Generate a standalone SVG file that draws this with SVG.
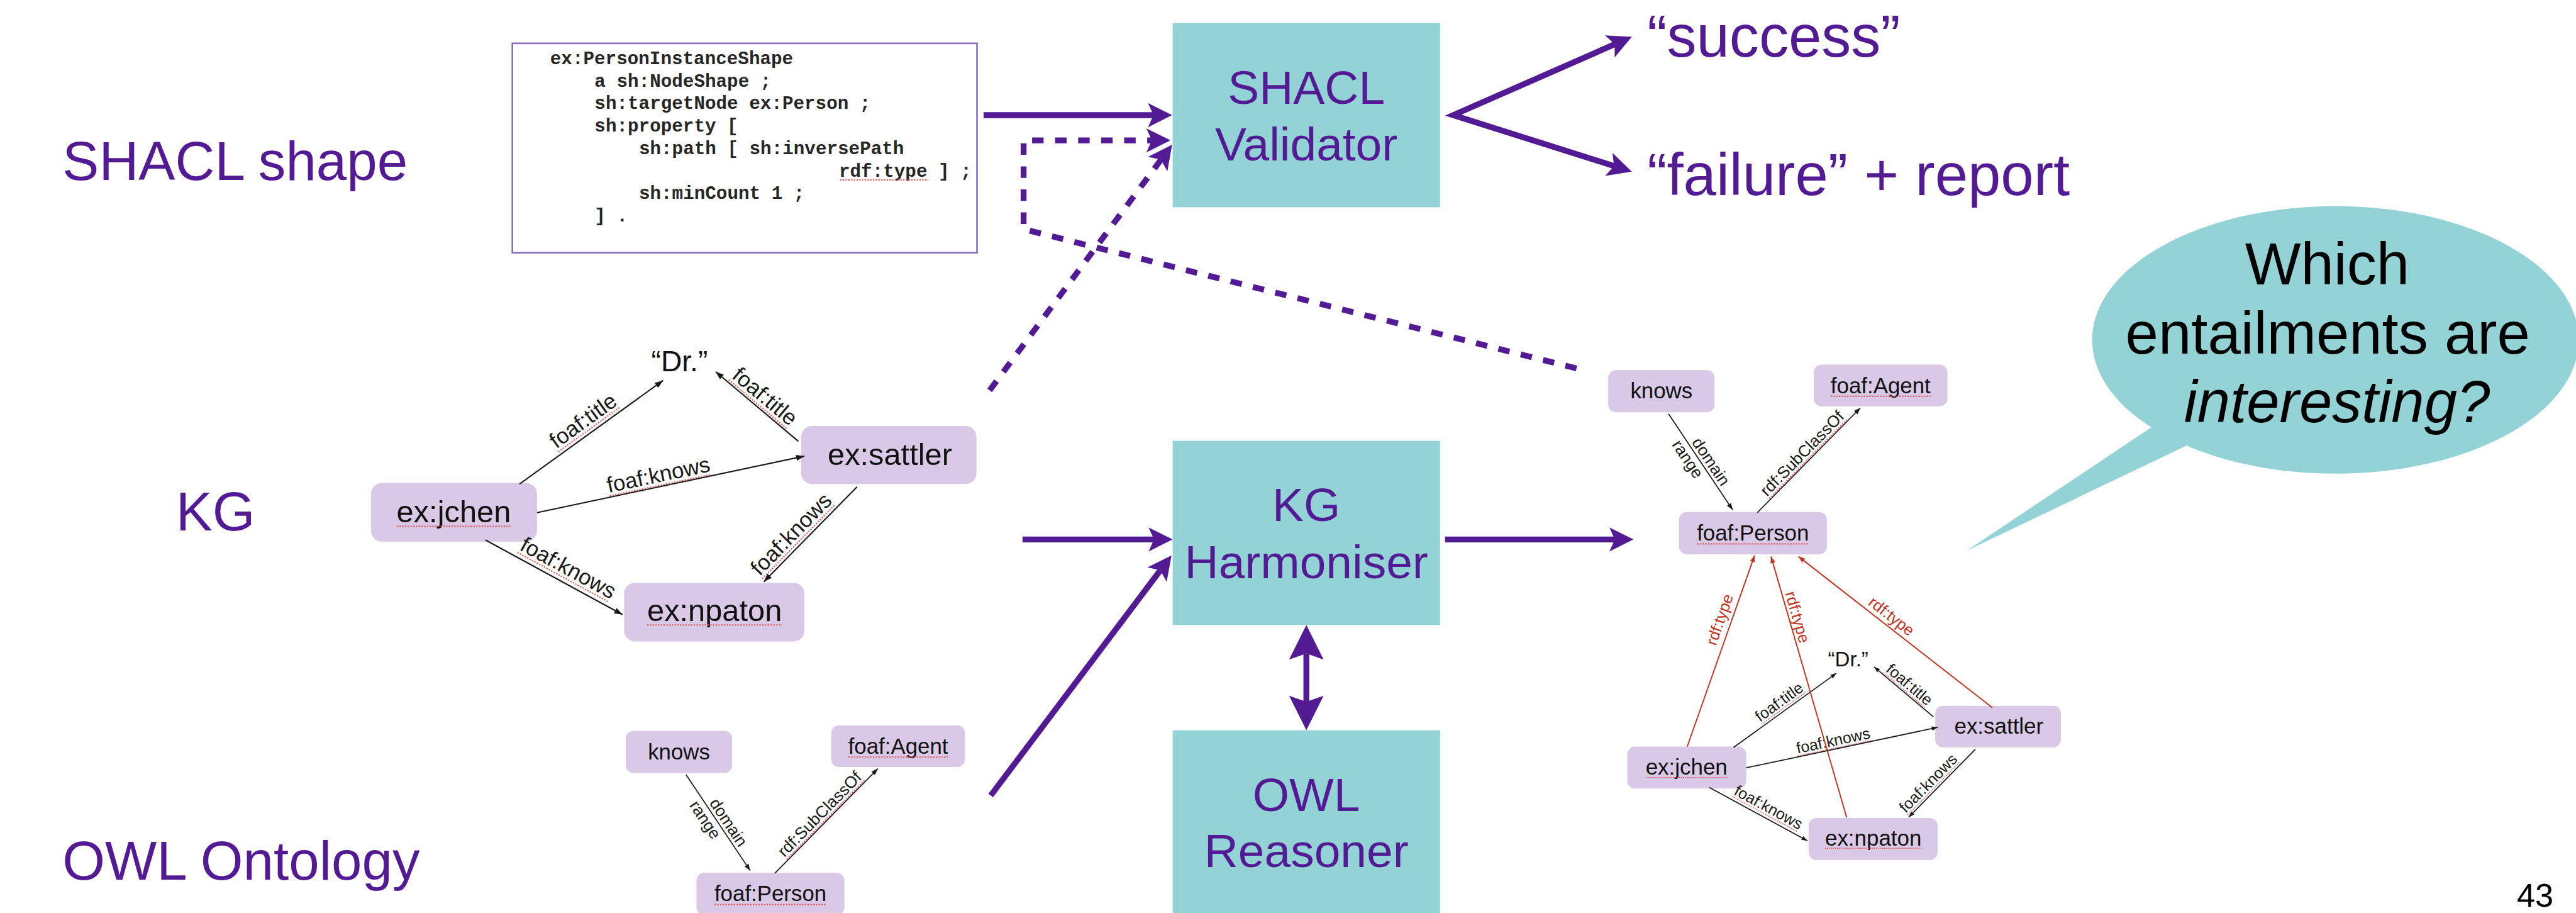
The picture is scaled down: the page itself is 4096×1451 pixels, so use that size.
<svg xmlns="http://www.w3.org/2000/svg" width="4096" height="1451" viewBox="0 0 4096 1451">
<style>
.lbl{font-family:"Liberation Sans",Arial,Helvetica,sans-serif}
.purple{fill:#531B93}
.proc{fill:#93D3D6}
.proctxt{font-size:86px;fill:#531B93;text-anchor:middle}
.out{font-size:108px;fill:#531B93}
.code{font-family:"Liberation Mono","Courier New",monospace;font-size:33.6px;font-weight:bold;fill:#262626}
.node{fill:#D9C9E7}
.ntxt{fill:#111;text-anchor:middle}
.edge{stroke:#1a1a1a;fill:none}
.elbl{fill:#1a1a1a;text-anchor:middle}
.red{stroke:#C0321E;stroke-width:2.2;fill:none}
.rlbl{fill:#C0321E;font-size:29px;text-anchor:middle}
.spell{stroke:#E25555;stroke-width:2.5;stroke-dasharray:2.5 2.5;fill:none}
.flow{stroke:#531B93;stroke-width:10.7;fill:none}
.dash{stroke-dasharray:21 21}
</style>
<defs>
  <marker id="ah" viewBox="-46 -24 48 48" markerWidth="48" markerHeight="48" refX="-34" refY="0" orient="auto-start-reverse" markerUnits="userSpaceOnUse">
    <path d="M0,0 L-44,-22 L-34,0 L-44,22 Z" fill="#531B93"/>
  </marker>
  <marker id="ahB" viewBox="-65 -33 67 66" markerWidth="67" markerHeight="66" refX="-52" refY="0" orient="auto-start-reverse" markerUnits="userSpaceOnUse">
    <path d="M0,0 L-63,-31.5 L-52,0 L-63,31.5 Z" fill="#531B93"/>
  </marker>
  <marker id="tk" viewBox="-16 -7 17 14" markerWidth="17" markerHeight="14" refX="0" refY="0" orient="auto" markerUnits="userSpaceOnUse">
    <path d="M0,0 L-15,-5.5 L-15,5.5 Z" fill="#1a1a1a"/>
  </marker>
  <marker id="ts" viewBox="-13 -6 14 12" markerWidth="14" markerHeight="12" refX="0" refY="0" orient="auto" markerUnits="userSpaceOnUse">
    <path d="M0,0 L-12,-4.5 L-12,4.5 Z" fill="#1a1a1a"/>
  </marker>
  <marker id="tr" viewBox="-13 -6 14 12" markerWidth="14" markerHeight="12" refX="0" refY="0" orient="auto" markerUnits="userSpaceOnUse">
    <path d="M0,0 L-12,-4.5 L-12,4.5 Z" fill="#C0321E"/>
  </marker>
</defs>
<rect width="4096" height="1451" fill="#ffffff"/>
<g transform="scale(0.8713)">

  <!-- row captions -->
  <g id="row-labels" class="lbl purple" font-size="100">
    <text x="114" y="328">SHACL shape</text>
    <text x="321" y="968">KG</text>
    <text x="114" y="1604">OWL Ontology</text>
  </g>

  <!-- SHACL shape listing -->
  <g id="shacl-shape">
    <rect x="935" y="79" width="848" height="382" fill="#ffffff" stroke="#8C6BC8" stroke-width="3"/>
    <text class="code" x="1004" y="117">ex:PersonInstanceShape</text>
    <text class="code" x="1085" y="158">a sh:NodeShape ;</text>
    <text class="code" x="1085" y="199">sh:targetNode ex:Person ;</text>
    <text class="code" x="1085" y="240">sh:property [</text>
    <text class="code" x="1166" y="281">sh:path [ sh:inversePath</text>
    <text class="code" x="1531" y="322">rdf:type ] ;</text>
    <text class="code" x="1166" y="363">sh:minCount 1 ;</text>
    <text class="code" x="1085" y="404">] .</text>
    <line class="spell" x1="1533" y1="328" x2="1694" y2="328"/>
  </g>

  <!-- processing components -->
  <g id="shacl-validator">
    <rect class="proc" x="2140" y="42" width="488" height="336"/>
    <text class="lbl proctxt" x="2384" y="189">SHACL</text>
    <text class="lbl proctxt" x="2384" y="293">Validator</text>
  </g>
  <g id="kg-harmoniser">
    <rect class="proc" x="2140" y="804" width="488" height="336"/>
    <text class="lbl proctxt" x="2384" y="950">KG</text>
    <text class="lbl proctxt" x="2384" y="1055">Harmoniser</text>
  </g>
  <g id="owl-reasoner">
    <rect class="proc" x="2140" y="1332" width="488" height="340"/>
    <text class="lbl proctxt" x="2384" y="1479">OWL</text>
    <text class="lbl proctxt" x="2384" y="1582">Reasoner</text>
  </g>

  <!-- validation outcomes -->
  <g id="out-success"><text class="lbl out" x="3006" y="103">“success”</text></g>
  <g id="out-failure"><text class="lbl out" x="3006" y="356">“failure” + report</text></g>

  <!-- input knowledge graph -->
  <g id="kg-dr"><text class="lbl" x="1240" y="677" font-size="53" text-anchor="middle" fill="#111">“Dr.”</text></g>
  <g id="kg-jchen">
    <rect class="node" x="677" y="881" width="303" height="107" rx="20"/>
    <text class="lbl ntxt" x="828" y="953" font-size="56">ex:jchen</text>
    <line class="spell" x1="724" y1="960" x2="932" y2="960"/>
  </g>
  <g id="kg-sattler">
    <rect class="node" x="1462" y="777" width="320" height="106" rx="20"/>
    <text class="lbl ntxt" x="1624" y="848" font-size="56">ex:sattler</text>
  </g>
  <g id="kg-npaton">
    <rect class="node" x="1139" y="1063" width="329" height="107" rx="20"/>
    <text class="lbl ntxt" x="1304" y="1133" font-size="56">ex:npaton</text>
    <line class="spell" x1="1181" y1="1140" x2="1427" y2="1140"/>
  </g>

  <!-- input ontology -->
  <g id="owl-knows">
    <rect class="node" x="1142" y="1333" width="194" height="77" rx="14"/>
    <text class="lbl ntxt" x="1239" y="1385" font-size="40">knows</text>
  </g>
  <g id="owl-agent">
    <rect class="node" x="1517" y="1323" width="244" height="76" rx="14"/>
    <text class="lbl ntxt" x="1639" y="1375" font-size="40">foaf:Agent</text>
    <line class="spell" x1="1548" y1="1381" x2="1730" y2="1381"/>
  </g>
  <g id="owl-person">
    <rect class="node" x="1271" y="1592" width="270" height="77" rx="14"/>
    <text class="lbl ntxt" x="1406" y="1644" font-size="40">foaf:Person</text>
    <line class="spell" x1="1304" y1="1650" x2="1508" y2="1650"/>
  </g>

  <!-- harmonised graph: ontology part -->
  <g transform="translate(1793 -658)">
    <g id="res-knows">
      <rect class="node" x="1142" y="1333" width="194" height="77" rx="14"/>
      <text class="lbl ntxt" x="1239" y="1385" font-size="40">knows</text>
    </g>
    <g id="res-agent">
      <rect class="node" x="1517" y="1323" width="244" height="76" rx="14"/>
      <text class="lbl ntxt" x="1639" y="1375" font-size="40">foaf:Agent</text>
      <line class="spell" x1="1548" y1="1381" x2="1730" y2="1381"/>
    </g>
    <g id="res-person">
      <rect class="node" x="1271" y="1592" width="270" height="77" rx="14"/>
      <text class="lbl ntxt" x="1406" y="1644" font-size="40">foaf:Person</text>
      <line class="spell" x1="1304" y1="1650" x2="1508" y2="1650"/>
    </g>
  </g>

  <!-- harmonised graph: instance part -->
  <g transform="translate(2485 731) scale(0.716)">
    <g id="res-dr"><text class="lbl" x="1240" y="677" font-size="53" text-anchor="middle" fill="#111">“Dr.”</text></g>
    <g id="res-jchen">
      <rect class="node" x="677" y="881" width="303" height="107" rx="20"/>
      <text class="lbl ntxt" x="828" y="953" font-size="56">ex:jchen</text>
      <line class="spell" x1="724" y1="960" x2="932" y2="960"/>
    </g>
    <g id="res-sattler">
      <rect class="node" x="1462" y="777" width="320" height="106" rx="20"/>
      <text class="lbl ntxt" x="1624" y="848" font-size="56">ex:sattler</text>
    </g>
    <g id="res-npaton">
      <rect class="node" x="1139" y="1063" width="329" height="107" rx="20"/>
      <text class="lbl ntxt" x="1304" y="1133" font-size="56">ex:npaton</text>
      <line class="spell" x1="1181" y1="1140" x2="1427" y2="1140"/>
    </g>
  </g>

  <!-- question bubble -->
  <g id="question-bubble">
    <path class="proc" d="M3934,774 L3590,1004 L3998,809 Z"/>
    <ellipse class="proc" cx="4262" cy="620" rx="444" ry="244"/>
    <text class="lbl" font-size="108" fill="#000" text-anchor="middle">
      <tspan x="4262" y="519">Which</tspan>
      <tspan x="4263" y="645">entailments are</tspan>
      <tspan x="4265" y="770" font-style="italic">interesting?</tspan>
    </text>
  </g>

  <g id="page-number"><text class="lbl" x="4593" y="1654" font-size="60" fill="#000">43</text></g>

  <!-- connectors -->
  <g id="connectors">
    <g id="flows">
      <path class="flow" d="M1795,210 L2105,210" marker-end="url(#ah)"/>
      <path class="flow dash" d="M2877,672 L1868,418 L1868,256 L2102,256" marker-end="url(#ah)"/>
      <path class="flow dash" d="M1806,712 L2118.7,291.3" marker-end="url(#ah)"/>
      <path class="flow" d="M2946.9,80.7 L2652,210 L2945.6,302.8" stroke-linejoin="miter" marker-start="url(#ah)" marker-end="url(#ah)"/>
      <path class="flow" d="M1866,984 L2106,984" marker-end="url(#ah)"/>
      <path class="flow" d="M1808,1451 L2117.5,1040.2" marker-end="url(#ah)"/>
      <path class="flow" d="M2637,984 L2947,984" marker-end="url(#ah)"/>
      <path class="flow" d="M2384,1192 L2384,1280" stroke-width="14" marker-start="url(#ahB)" marker-end="url(#ahB)"/>
    </g>

    <g id="kg-edges">
      <path class="edge" stroke-width="2.4" d="M948,883 L1210,694" marker-end="url(#tk)"/>
      <path class="edge" stroke-width="2.4" d="M1457,805 L1306,678" marker-end="url(#tk)"/>
      <path class="edge" stroke-width="2.4" d="M980,935 L1468,832" marker-end="url(#tk)"/>
      <path class="edge" stroke-width="2.4" d="M886,985 L1136,1121" marker-end="url(#tk)"/>
      <path class="edge" stroke-width="2.4" d="M1564,888 L1394,1061" marker-end="url(#tk)"/>
      <g class="lbl" font-size="40">
        <g transform="translate(1079 788) rotate(-35.8)"><text class="elbl" y="-12">foaf:title</text><line class="spell" x1="-70" y1="-6" x2="70" y2="-6"/></g>
        <g transform="translate(1381 741) rotate(40.1)"><text class="elbl" y="-10">foaf:title</text><line class="spell" x1="-70" y1="-4" x2="70" y2="-4"/></g>
        <g transform="translate(1206 887) rotate(-11.9)"><text class="elbl" y="-8">foaf:knows</text><line class="spell" x1="-95" y1="-2" x2="95" y2="-2"/></g>
        <g transform="translate(1024 1060) rotate(28.5)"><text class="elbl" y="-14">foaf:knows</text><line class="spell" x1="-95" y1="-8" x2="95" y2="-8"/></g>
        <g transform="translate(1462 992) rotate(-45.5)"><text class="elbl" y="-12">foaf:knows</text><line class="spell" x1="-95" y1="-6" x2="95" y2="-6"/></g>
      </g>
    </g>

    <g id="owl-edges">
      <path class="edge" stroke-width="2" d="M1252,1413 L1369,1588" marker-end="url(#ts)"/>
      <path class="edge" stroke-width="2" d="M1414,1593 L1602,1402" marker-end="url(#ts)"/>
      <g class="lbl" font-size="30">
        <g transform="translate(1316 1509) rotate(56.2)"><text class="elbl" y="-6">domain</text></g>
        <g transform="translate(1301 1486) rotate(56.2)"><text class="elbl" y="27">range</text></g>
        <g transform="translate(1508 1497) rotate(-45.5)"><text class="elbl" y="-7">rdf:SubClassOf</text><line class="spell" x1="-101" y1="-2" x2="101" y2="-2"/></g>
      </g>
    </g>

    <g id="res-onto-edges" transform="translate(1793 -658)">
      <path class="edge" stroke-width="2" d="M1252,1413 L1369,1588" marker-end="url(#ts)"/>
      <path class="edge" stroke-width="2" d="M1414,1593 L1602,1402" marker-end="url(#ts)"/>
      <g class="lbl" font-size="30">
        <g transform="translate(1316 1509) rotate(56.2)"><text class="elbl" y="-6">domain</text></g>
        <g transform="translate(1301 1486) rotate(56.2)"><text class="elbl" y="27">range</text></g>
        <g transform="translate(1508 1497) rotate(-45.5)"><text class="elbl" y="-7">rdf:SubClassOf</text><line class="spell" x1="-101" y1="-2" x2="101" y2="-2"/></g>
      </g>
    </g>

    <g id="res-kg-edges" transform="translate(2485 731) scale(0.716)">
      <path class="edge" stroke-width="2.8" d="M948,883 L1210,694" marker-end="url(#tk)"/>
      <path class="edge" stroke-width="2.8" d="M1457,805 L1306,678" marker-end="url(#tk)"/>
      <path class="edge" stroke-width="2.8" d="M980,935 L1468,832" marker-end="url(#tk)"/>
      <path class="edge" stroke-width="2.8" d="M886,985 L1136,1121" marker-end="url(#tk)"/>
      <path class="edge" stroke-width="2.8" d="M1564,888 L1394,1061" marker-end="url(#tk)"/>
      <g class="lbl" font-size="40">
        <g transform="translate(1079 788) rotate(-35.8)"><text class="elbl" y="-12">foaf:title</text><line class="spell" x1="-70" y1="-6" x2="70" y2="-6"/></g>
        <g transform="translate(1381 741) rotate(40.1)"><text class="elbl" y="-10">foaf:title</text><line class="spell" x1="-70" y1="-4" x2="70" y2="-4"/></g>
        <g transform="translate(1206 887) rotate(-11.9)"><text class="elbl" y="-8">foaf:knows</text><line class="spell" x1="-95" y1="-2" x2="95" y2="-2"/></g>
        <g transform="translate(1024 1060) rotate(28.5)"><text class="elbl" y="-14">foaf:knows</text><line class="spell" x1="-95" y1="-8" x2="95" y2="-8"/></g>
        <g transform="translate(1462 992) rotate(-45.5)"><text class="elbl" y="-12">foaf:knows</text><line class="spell" x1="-95" y1="-6" x2="95" y2="-6"/></g>
      </g>
    </g>

    <g id="res-type-edges">
      <path class="red" d="M3079,1362 L3202,1013" marker-end="url(#tr)"/>
      <path class="red" d="M3370,1491 L3232,1015" marker-end="url(#tr)"/>
      <path class="red" d="M3636,1291 L3282,1015" marker-end="url(#tr)"/>
      <g class="lbl">
        <g transform="translate(3158 1137) rotate(-70.6)"><text class="rlbl" y="-11">rdf:type</text></g>
        <g transform="translate(3265 1130) rotate(73.9)"><text class="rlbl" y="-6">rdf:type</text></g>
        <g transform="translate(3441 1138) rotate(37.9)"><text class="rlbl" y="-8">rdf:type</text></g>
      </g>
    </g>
  </g>
</g>
</svg>
